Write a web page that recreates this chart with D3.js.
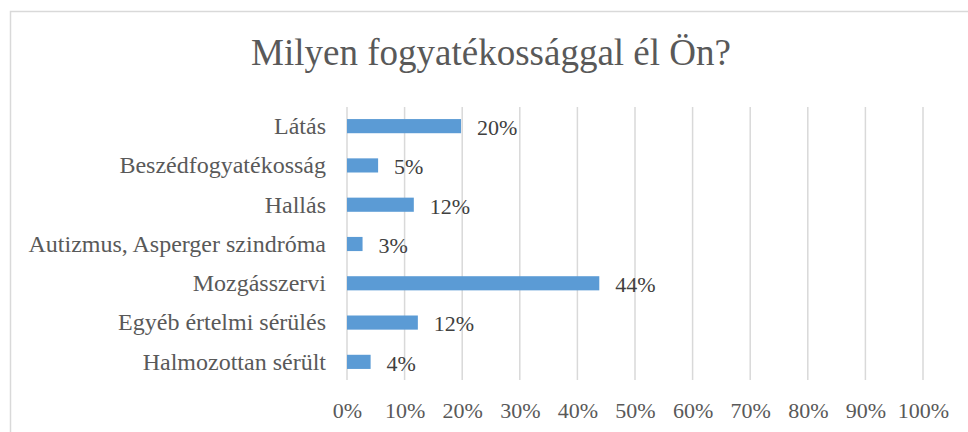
<!DOCTYPE html>
<html>
  <head>
    <meta charset="utf-8">
    <title>Milyen fogyatékossággal él Ön?</title>
    <script src="https://d3js.org/d3.v7.min.js"></script>
    <style>
    html, body {margin: 0; padding: 0; background: #fff;}
    svg {display: block;}
    text {font-family: "Liberation Serif", "Times New Roman", serif;}
    .grid line {stroke: #d9d9d9; stroke-width: 1.5px;}
    .bar {fill: #5b9bd5;}
    </style>
  </head>
  <body>
    <script>

        var categories = ["Látás", "Beszédfogyatékosság", "Hallás", "Autizmus, Asperger szindróma",
                          "Mozgásszervi", "Egyéb értelmi sérülés", "Halmozottan sérült"];
        var values = [0.198, 0.054, 0.116, 0.027, 0.438, 0.123, 0.041];
        var valueLabels = ["20%", "5%", "12%", "3%", "44%", "12%", "4%"];
        var ticks = [0, 0.1, 0.2, 0.3, 0.4, 0.5, 0.6, 0.7, 0.8, 0.9, 1];

        var width = 968,
            height = 432;
        var serif = "Liberation Serif, Times New Roman, serif";

        var svg = d3.select("body").append("svg")
            .attr("width", width)
            .attr("height", height);

        // chart frame (runs off the right and bottom edge in the original)
        svg.append("rect")
            .attr("x", 10.5).attr("y", 11.5)
            .attr("width", 980).attr("height", 440)
            .attr("fill", "#fff")
            .attr("stroke", "#d9d9d9")
            .attr("stroke-width", 1.5);

        svg.append("text")
            .attr("x", 491)
            .attr("y", 65)
            .attr("text-anchor", "middle")
            .style("font-size", "37px")
            .style("fill", "#595959")
            .text("Milyen fogyatékossággal él Ön?");

        var x = d3.scaleLinear().domain([0, 1]).range([347, 923]);
        var y = d3.scaleBand()
            .domain(categories)
            .range([106.5, 381.5])
            .paddingInner(0.64)
            .paddingOuter(0.32);

        svg.append("g").attr("class", "grid")
            .selectAll("line")
            .data(ticks)
            .enter().append("line")
            .attr("x1", function (d) { return x(d); })
            .attr("x2", function (d) { return x(d); })
            .attr("y1", 107)
            .attr("y2", 380);

        var xAxis = d3.axisBottom(x)
            .tickValues(ticks)
            .tickSize(0)
            .tickPadding(0)
            .tickFormat(d3.format(".0%"));

        var gx = svg.append("g")
            .attr("transform", "translate(0,402)")
            .call(xAxis)
            .attr("font-family", serif);
        gx.select(".domain").remove();
        gx.selectAll("text")
            .attr("dy", "0.71em")
            .style("font-size", "22px")
            .style("fill", "#595959");

        var yAxis = d3.axisLeft(y).tickSize(0).tickPadding(21);
        var gy = svg.append("g")
            .attr("transform", "translate(347,0)")
            .call(yAxis)
            .attr("font-family", serif);
        gy.select(".domain").remove();
        gy.selectAll("text")
            .attr("dy", "0.33em")
            .style("font-size", "24px")
            .style("fill", "#595959");

        svg.selectAll(".bar")
            .data(values)
            .enter().append("rect")
            .attr("class", "bar")
            .attr("x", x(0))
            .attr("y", function (d, i) { return y(categories[i]); })
            .attr("width", function (d) { return x(d) - x(0); })
            .attr("height", y.bandwidth());

        svg.selectAll(".label")
            .data(values)
            .enter().append("text")
            .attr("class", "label")
            .attr("x", function (d) { return x(d) + 16; })
            .attr("y", function (d, i) { return y(categories[i]) + y.bandwidth() / 2; })
            .attr("dy", "0.4em")
            .style("font-size", "22px")
            .style("fill", "#404040")
            .text(function (d, i) { return valueLabels[i]; });

    </script>
  </body>
</html>
